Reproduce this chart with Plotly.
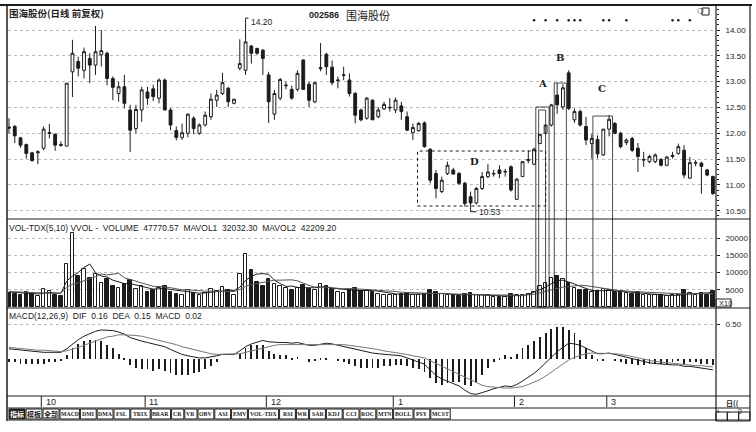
import plotly.graph_objects as go

W, H = 756, 432
def PX(x): return x / W
def PY(y): return 1 - y / H

# ---------------- data ----------------
opens = [12.12,12.13,11.91,11.78,11.62,11.62,11.71,12.00,11.98,11.78,
         11.75,13.19,13.39,13.22,13.45,13.32,13.52,13.55,13.06,12.77,
         12.90,12.45,12.09,12.45,12.80,12.86,12.68,13.03,12.45,12.05,
         11.92,12.00,12.29,12.00,12.16,12.32,12.64,12.77,12.87,12.58,
         13.26,13.22,13.69,13.64,13.61,13.13,12.37,12.68,12.92,12.85,
         12.85,13.42,12.95,12.61,13.25,13.53,13.28,13.02,13.12,13.03,
         12.77,12.45,12.29,12.64,12.32,12.47,12.49,12.45,12.53,12.32,
         12.01,12.05,12.20,11.69,11.22,10.87,11.22,11.29,11.22,11.03,
         10.77,10.65,10.93,11.16,11.21,11.29,11.25,11.35,10.72,11.16,
         11.47,11.40,11.80,12.00,12.16,12.74,12.51,13.17,12.26,12.42,
         12.13,11.80,11.88,11.58,12.08,12.19,12.00,11.82,11.90,11.71,
         11.48,11.45,11.45,11.49,11.38,11.55,11.61,11.67,11.13,11.42,
         11.42,11.29,11.16]
highs = [12.29,12.16,11.93,11.80,11.64,11.67,12.13,12.18,12.00,11.84,
         12.97,13.81,13.48,13.66,13.55,14.08,14.00,13.58,13.10,13.00,
         13.13,12.55,12.55,12.90,12.90,12.94,13.06,13.06,12.49,12.13,
         12.19,12.38,12.33,12.19,12.42,12.77,12.84,13.17,12.90,12.66,
         13.82,14.20,13.71,13.66,13.63,13.19,12.84,13.07,13.00,12.92,
         13.22,13.43,13.00,13.00,13.75,13.56,13.41,13.10,13.29,13.16,
         12.80,12.48,12.70,12.66,12.51,12.61,12.68,12.69,12.61,12.42,
         12.19,12.22,12.23,11.71,11.29,11.16,11.45,11.33,11.25,11.06,
         10.87,10.96,11.25,11.40,11.29,11.38,11.31,11.38,11.13,11.45,
         11.67,11.72,11.98,12.16,12.57,12.97,12.95,13.22,12.48,12.46,
         12.32,11.98,11.96,12.08,12.35,12.22,12.03,11.90,11.93,11.81,
         11.64,11.58,11.61,11.52,11.56,11.64,11.80,11.77,11.54,11.48,
         11.45,11.31,11.18]
lows = [12.00,11.81,11.72,11.51,11.45,11.40,11.67,11.90,11.66,11.74,
        11.75,12.70,13.10,13.06,12.97,13.13,13.29,12.93,12.64,12.61,
        12.48,11.64,12.00,12.22,12.55,12.62,12.58,12.45,12.06,11.86,
        11.87,11.92,11.98,11.97,12.13,12.26,12.51,12.74,12.51,12.56,
        13.22,13.13,13.35,13.52,13.13,12.20,12.26,12.64,12.85,12.65,
        12.81,12.84,12.51,12.58,13.20,13.13,12.93,12.87,13.03,12.71,
        12.19,12.23,12.26,12.26,12.29,12.45,12.42,12.39,12.26,12.04,
        11.87,12.03,11.72,11.03,10.74,10.84,11.19,11.20,11.00,10.58,
        10.53,10.62,10.90,11.13,11.16,11.13,11.16,10.87,10.72,11.16,
        11.42,11.38,11.80,11.98,12.13,12.38,12.45,12.45,12.20,12.13,
        11.77,11.51,11.51,11.56,11.94,11.98,11.71,11.77,11.64,11.25,
        11.35,11.42,11.42,11.36,11.36,11.51,11.58,11.13,11.12,11.36,
        10.83,11.17,10.81]
closes = [12.10,11.95,11.77,11.61,11.47,11.64,12.08,12.01,11.77,11.77,
          12.97,13.55,13.26,13.58,13.32,13.58,13.60,13.06,12.89,12.90,
          12.58,12.06,12.46,12.84,12.68,12.71,13.03,12.45,12.16,11.92,
          12.01,12.37,12.09,12.16,12.35,12.66,12.74,12.98,12.61,12.66,
          13.35,13.77,13.55,13.55,13.45,12.61,12.77,13.04,12.93,12.68,
          13.16,12.85,12.64,12.98,13.27,13.29,12.98,13.03,13.13,12.77,
          12.35,12.26,12.68,12.26,12.45,12.56,12.50,12.64,12.42,12.06,
          12.11,12.19,11.74,11.09,10.93,11.09,11.38,11.21,11.03,10.64,
          10.65,10.93,11.16,11.25,11.22,11.22,11.26,10.90,11.11,11.45,
          11.49,11.69,11.98,12.16,12.55,12.55,12.88,12.48,12.42,12.16,
          11.87,11.90,11.60,12.08,12.27,12.00,11.74,11.87,11.67,11.55,
          11.49,11.55,11.58,11.38,11.54,11.57,11.74,11.19,11.43,11.43,
          11.36,11.19,10.83]
volumes = [4200,3900,3600,4400,3700,3200,5200,4600,3600,3300,
           12500,21500,9000,11000,8500,9500,7000,8200,6200,5600,
           6800,7800,5200,6000,4500,4800,5600,6200,4400,3800,
           3600,5000,4200,3400,4000,5200,4600,5800,4800,3600,
           9500,15500,10800,7200,6000,8200,6600,6000,5400,4800,
           5600,6400,5200,5000,6800,6000,5200,4400,4200,4800,
           5600,4600,5000,4400,3800,3600,3400,3600,3800,4200,
           3600,3400,3800,4800,4400,3800,3600,3400,3200,3800,
           4000,3400,3600,3400,3000,2800,3000,3800,3600,3400,
           3800,4400,6000,7000,8500,9000,8200,7000,5600,5000,
           4800,4400,4600,5200,4800,4400,4600,4000,3800,4400,
           3600,3400,3600,3400,3200,3400,3600,4800,4200,3600,
           4000,3600,4600]
mavol1 = [4400,4200,4000,4000,3900,3800,4000,4200,4100,4000,
          7500,9000,10000,11500,12500,10000,9000,8700,7800,7300,
          6800,6800,6400,6000,5700,5200,5300,5400,5100,4900,
          4700,4600,4200,4000,4100,4400,4500,4600,4900,4800,
          5700,7700,8900,9600,9700,9500,7800,6800,6000,6100,
          5700,5600,5500,5600,5800,5900,5500,5300,5000,4800,
          4800,4800,4900,4800,4600,4300,4000,3800,3700,3700,
          3700,3700,3800,4000,4000,4000,3900,3600,3500,3600,
          3600,3500,3500,3400,3400,3200,3200,3300,3300,3300,
          3700,4300,5000,5800,6800,7700,7800,7300,6700,6000,
          5300,4800,4700,4800,4800,4700,4600,4500,4400,4300,
          4000,3800,3800,3600,3400,3400,3400,3700,3800,3800,
          3900,4000,4200]
mavol2 = [4500,4400,4300,4200,4100,4000,4000,4000,4000,4000,
          5700,6600,7000,7700,8200,8800,9600,9300,9600,9800,
          8500,7900,7500,7000,6500,6000,6000,5900,5600,5300,
          5000,5000,4800,4700,4600,4600,4600,4600,4500,4500,
          5100,6000,6500,6800,7300,7400,7800,7800,7800,7900,
          7600,6900,6300,5800,5900,5700,5500,5400,5300,5400,
          5300,5200,5100,5000,5000,4900,4700,4500,4300,4200,
          4100,4000,3900,3900,3900,3900,3800,3700,3700,3700,
          3700,3600,3600,3500,3500,3500,3400,3400,3400,3400,
          3500,3700,4100,4600,5000,5400,5800,6000,6200,6300,
          6200,6000,5800,5500,5200,4900,4700,4600,4500,4400,
          4300,4200,4100,4000,4000,3900,3800,3800,3800,3800,
          3800,3800,3900]
dif = [0.15,0.14,0.13,0.12,0.11,0.10,0.10,0.10,0.10,0.10,
       0.15,0.22,0.28,0.33,0.37,0.40,0.42,0.42,0.41,0.39,
       0.36,0.31,0.28,0.26,0.24,0.22,0.21,0.18,0.14,0.10,
       0.07,0.05,0.03,0.02,0.02,0.03,0.05,0.07,0.07,0.07,
       0.12,0.18,0.22,0.25,0.27,0.25,0.24,0.24,0.24,0.23,
       0.24,0.22,0.20,0.20,0.22,0.23,0.22,0.20,0.19,0.17,
       0.14,0.12,0.11,0.09,0.08,0.07,0.06,0.06,0.05,0.02,
       -0.01,-0.03,-0.07,-0.15,-0.23,-0.28,-0.31,-0.34,-0.38,-0.44,
       -0.49,-0.50,-0.48,-0.45,-0.42,-0.40,-0.38,-0.39,-0.36,-0.31,
       -0.26,-0.20,-0.13,-0.05,0.04,0.11,0.17,0.23,0.22,0.20,
       0.16,0.12,0.08,0.08,0.09,0.07,0.05,0.03,0.01,-0.02,
       -0.04,-0.05,-0.06,-0.07,-0.08,-0.08,-0.08,-0.10,-0.10,-0.11,
       -0.12,-0.13,-0.15]
dea = [0.17,0.16,0.16,0.15,0.14,0.13,0.13,0.12,0.12,0.11,
       0.12,0.14,0.17,0.20,0.23,0.26,0.29,0.32,0.33,0.35,
       0.35,0.35,0.34,0.33,0.31,0.30,0.28,0.26,0.24,0.21,
       0.18,0.16,0.13,0.11,0.09,0.08,0.07,0.07,0.07,0.07,
       0.08,0.10,0.12,0.15,0.17,0.19,0.20,0.21,0.21,0.22,
       0.22,0.22,0.22,0.21,0.21,0.22,0.22,0.21,0.21,0.20,
       0.19,0.18,0.17,0.15,0.14,0.12,0.11,0.10,0.09,0.07,
       0.05,0.04,0.02,-0.02,-0.06,-0.10,-0.14,-0.18,-0.22,-0.26,
       -0.30,-0.34,-0.37,-0.39,-0.40,-0.41,-0.41,-0.41,-0.40,-0.39,
       -0.36,-0.33,-0.29,-0.24,-0.18,-0.12,-0.06,-0.01,0.03,0.06,
       0.08,0.09,0.09,0.09,0.09,0.08,0.07,0.06,0.04,0.02,
       0.00,-0.02,-0.03,-0.04,-0.05,-0.06,-0.07,-0.07,-0.08,-0.09,
       -0.09,-0.10,-0.11]
macd_hist = [-0.04,-0.04,-0.06,-0.06,-0.06,-0.06,-0.06,-0.04,-0.04,-0.02,
             0.06,0.16,0.22,0.26,0.28,0.28,0.26,0.20,0.16,0.08,
             0.02,-0.08,-0.12,-0.14,-0.14,-0.16,-0.14,-0.16,-0.20,-0.22,
             -0.22,-0.22,-0.20,-0.18,-0.14,-0.10,-0.04,0.00,0.00,0.00,
             0.08,0.16,0.20,0.20,0.20,0.12,0.08,0.06,0.06,0.02,
             0.04,0.00,-0.04,-0.02,0.02,0.02,0.00,-0.02,-0.04,-0.06,
             -0.10,-0.12,-0.12,-0.12,-0.12,-0.10,-0.10,-0.08,-0.08,-0.10,
             -0.12,-0.14,-0.18,-0.26,-0.34,-0.36,-0.34,-0.32,-0.32,-0.36,
             -0.38,-0.32,-0.22,-0.12,-0.04,0.02,0.06,0.04,0.08,0.16,
             0.20,0.26,0.32,0.38,0.44,0.46,0.46,0.42,0.38,0.28,
             0.16,0.06,-0.02,-0.02,0.00,-0.02,-0.04,-0.06,-0.06,-0.08,
             -0.08,-0.06,-0.06,-0.06,-0.06,-0.04,-0.02,-0.06,-0.04,-0.04,
             -0.06,-0.06,-0.08]
month_labels = ["10", "11", "12", "1", "2", "3"]
month_idx = [6, 24, 45, 67, 88, 104]
price_ticks = [10.5, 11.0, 11.5, 12.0, 12.5, 13.0, 13.5, 14.0]
vol_ticks = [5000, 10000, 15000, 20000]
macd_ticks = [0.5]
mark_idx = [91, 93, 95, 97, 98, 99, 103, 104, 107, 115, 116, 118]
buttons = ["指标", "模板", "全部", "MACD", "DMI", "DMA", "FSL", "TRIX", "BRAR", "CR", "VR",
           "OBV", "ASI", "EMV", "VOL-TDX", "RSI", "WR", "SAR", "KDJ", "CCI", "ROC",
           "MTN", "BOLL", "PSY", "MCST"]

INK = "#1c1c1c"
idx = list(range(len(closes)))
up = [c >= o for o, c in zip(opens, closes)]

fig = go.Figure()
fig.add_trace(go.Candlestick(
    x=idx, open=opens, high=highs, low=lows, close=closes,
    increasing=dict(line=dict(color=INK, width=1), fillcolor="#ffffff"),
    decreasing=dict(line=dict(color=INK, width=1), fillcolor=INK),
    whiskerwidth=0, xaxis="x", yaxis="y", hoverinfo="skip", showlegend=False))
fig.add_trace(go.Scatter(
    x=mark_idx, y=[14.19] * len(mark_idx), mode="markers",
    marker=dict(size=2.5, color=INK), xaxis="x", yaxis="y", hoverinfo="skip"))

fig.add_trace(go.Bar(
    x=idx, y=volumes, width=0.62,
    marker=dict(color=["#ffffff" if u else INK for u in up], line=dict(color=INK, width=1)),
    xaxis="x2", yaxis="y2", hoverinfo="skip"))
fig.add_trace(go.Scatter(x=idx, y=mavol1, mode="lines", line=dict(color=INK, width=1),
                         xaxis="x2", yaxis="y2", hoverinfo="skip"))
fig.add_trace(go.Scatter(x=idx, y=mavol2, mode="lines", line=dict(color="#555", width=1),
                         xaxis="x2", yaxis="y2", hoverinfo="skip"))

fig.add_trace(go.Bar(x=idx, y=macd_hist, width=0.15, marker=dict(color=INK, line=dict(width=0)),
                     xaxis="x3", yaxis="y3", hoverinfo="skip"))
fig.add_trace(go.Scatter(x=idx, y=dif, mode="lines", line=dict(color=INK, width=1),
                         xaxis="x3", yaxis="y3", hoverinfo="skip"))
fig.add_trace(go.Scatter(x=idx, y=dea, mode="lines", line=dict(color="#777", width=1),
                         xaxis="x3", yaxis="y3", hoverinfo="skip"))

XR = [-0.17, 122.53]
xcommon = dict(domain=[PX(8), PX(716)], range=XR, showticklabels=False, showgrid=False,
               zeroline=False, showline=False, ticks="")
tickfont = dict(family="Liberation Sans", size=8, color=INK)
ycommon = dict(side="right", ticks="outside", ticklen=3, tickcolor=INK, tickfont=tickfont,
               ticklabelstandoff=4,
               showgrid=True, gridcolor="#b8b8b8", griddash="dot", gridwidth=1,
               zeroline=False, showline=False)

fig.update_layout(
    width=W, height=H, margin=dict(l=0, r=0, t=0, b=0),
    paper_bgcolor="white", plot_bgcolor="white", showlegend=False, bargap=0,
    xaxis=dict(**xcommon, anchor="y", rangeslider=dict(visible=False)),
    xaxis2=dict(**xcommon, anchor="y2", matches="x"),
    xaxis3=dict(**xcommon, anchor="y3", matches="x"),
    yaxis=dict(**ycommon, anchor="x", domain=[PY(219), PY(6)], range=[10.339, 14.465],
               tickvals=price_ticks, ticktext=[f"{v:.2f}" for v in price_ticks],
               minor=dict(ticks="outside", ticklen=2, dtick=0.1, tickcolor=INK, showgrid=False)),
    yaxis2=dict(**ycommon, anchor="x2", domain=[PY(308), PY(219)], range=[-290, 25580],
                tickvals=vol_ticks, ticktext=[str(v) for v in vol_ticks]),
    yaxis3=dict(**ycommon, anchor="x3", domain=[PY(396), PY(308)], range=[-0.524, 0.733],
                tickvals=macd_ticks, ticktext=[f"{v:.2f}" for v in macd_ticks]),
)

shapes = []
def line(x0, y0, x1, y1, w=1, color=INK):
    shapes.append(dict(type="line", xref="paper", yref="paper", x0=PX(x0), y0=PY(y0),
                       x1=PX(x1), y1=PY(y1), line=dict(color=color, width=w)))

# frame
line(0, 5, 752, 5, 2)
line(7, 5, 7, 421, 1.5)
line(716, 5, 716, 421, 1.2)
line(750, 5, 750, 421, 1.2)
line(7, 219, 750, 219, 1.2)
line(7, 308, 750, 308, 1.2)
line(7, 396, 750, 396, 1.2)
line(7, 408, 750, 408, 1)
line(7, 420, 750, 420, 1)

# month ticks
for m in month_idx:
    shapes.append(dict(type="line", xref="x", yref="paper", x0=m - 0.4, x1=m - 0.4,
                       y0=PY(396), y1=PY(407), line=dict(color=INK, width=1)))

# D dotted box
shapes.append(dict(type="rect", xref="x", yref="paper", x0=70.8, x1=93.0, y0=PY(206), y1=PY(151),
                   line=dict(color=INK, width=1, dash="dot")))
# A, B, C boxes (extending through the volume panel)
for (a, b, top) in [(91.3, 93.6, 107), (91.8, 93.0, 110), (94.5, 96.6, 83), (101.2, 104.6, 116)]:
    shapes.append(dict(type="rect", xref="x", yref="paper", x0=a, x1=b, y0=PY(307), y1=PY(top),
                       line=dict(color=INK, width=0.8)))

# 14.20 and 10.53 pointers
shapes.append(dict(type="path", xref="x", yref="y",
                   path="M 41,14.20 L 41,14.23 L 41.5,14.23", line=dict(color=INK, width=1)))
shapes.append(dict(type="path", xref="x", yref="y",
                   path="M 80,10.53 L 80,10.48 L 81,10.48", line=dict(color=INK, width=1)))

ann = []
# toolbar buttons
bx = 9
for i, b in enumerate(buttons):
    cjk = any(ord(ch) > 255 for ch in b)
    w = 16 if cjk else 3.6 * len(b) + 5
    fill = INK if i == 0 else "white"
    shapes.append(dict(type="rect", xref="paper", yref="paper", x0=PX(bx), x1=PX(bx + w),
                       y0=PY(419), y1=PY(409), line=dict(color=INK, width=1), fillcolor=fill))
    ann.append(dict(x=PX(bx + w / 2), y=PY(414), xref="paper", yref="paper", text=f"<b>{b}</b>",
                    showarrow=False,
                    font=dict(family="Noto Sans CJK SC" if cjk else "Liberation Serif",
                              size=7 if cjk else 5.8, color="white" if i == 0 else INK),
                    xanchor="center", yanchor="middle"))
    bx += w + 1
for k, t in enumerate(["+", "-", "0"]):
    x0 = 716 + k * 11.3
    shapes.append(dict(type="rect", xref="paper", yref="paper", x0=PX(x0), x1=PX(x0 + 11.3),
                       y0=PY(421), y1=PY(412), line=dict(color=INK, width=1)))
    ann.append(dict(x=PX(x0 + 5.6), y=PY(416.5), xref="paper", yref="paper", text=t, showarrow=False,
                    font=dict(family="Liberation Sans", size=7, color=INK)))

def text(x, y, s, size=9, family="Liberation Sans", anchor="left", color=INK):
    ann.append(dict(x=PX(x), y=PY(y), xref="paper", yref="paper", text=s, showarrow=False,
                    xanchor=anchor, yanchor="middle", font=dict(family=family, size=size, color=color)))

text(7, 13, "<b>围海股份(日线 前复权)</b>", 9.5, "Noto Sans CJK SC")
text(307, 15, "<b>002586</b>", 9, "Liberation Sans")
text(344, 15, "围海股份", 11, "Noto Sans CJK SC")
text(695, 11, "○", 8, "DejaVu Sans")
shapes.append(dict(type="rect", xref="paper", yref="paper", x0=PX(702), x1=PX(709), y0=PY(15), y1=PY(8),
                   line=dict(color=INK, width=1)))
text(7, 228, "VOL-TDX(5,10) VVOL -  VOLUME  47770.57  MAVOL1  32032.30  MAVOL2  42209.20", 8.5)
text(7, 316, "MACD(12,26,9)  DIF  0.16  DEA  0.15  MACD  0.02", 8.5)
text(717, 303, "X10", 7.5)
shapes.append(dict(type="rect", xref="paper", yref="paper", x0=PX(716), x1=PX(731), y0=PY(307), y1=PY(299),
                   line=dict(color=INK, width=1)))
text(724, 403, "<b>日((</b>", 7, "Noto Sans CJK SC")

for lab, m in zip(month_labels, month_idx):
    ann.append(dict(x=m, y=PY(402), xref="x3", yref="paper", text=lab, showarrow=False,
                    xanchor="left", yanchor="middle", font=dict(family="Liberation Sans", size=9, color=INK)))

ann.append(dict(x=41.6, y=14.15, xref="x", yref="y", text="14.20", showarrow=False, xanchor="left",
                font=dict(family="Liberation Sans", size=8.5, color=INK)))
ann.append(dict(x=81.1, y=10.48, xref="x", yref="y", text="10.53", showarrow=False, xanchor="left",
                font=dict(family="Liberation Sans", size=8.5, color=INK)))
for lab, xi, yp in [("A", 92.4, 12.97), ("B", 95.5, 13.47), ("C", 102.7, 12.86), ("D", 80.7, 11.45)]:
    ann.append(dict(x=xi, y=yp, xref="x", yref="y", text=f"<b>{lab}</b>", showarrow=False,
                    font=dict(family="DejaVu Serif", size=10, color=INK)))

fig.update_layout(shapes=shapes, annotations=ann)
fig.write_html("out.html", config={"displayModeBar": False},
               post_script="document.body.style.margin='0px';document.body.style.overflow='hidden';")
